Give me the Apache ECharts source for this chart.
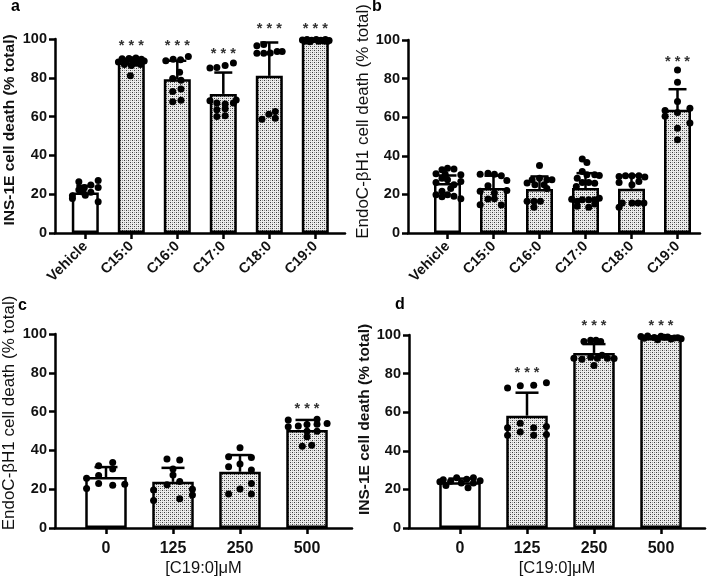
<!DOCTYPE html>
<html>
<head>
<meta charset="utf-8">
<script src="https://cdn.jsdelivr.net/npm/echarts@6/dist/echarts.min.js"></script>
<style>
html,body{margin:0;padding:0;background:#fff;}
#chart{width:710px;height:579px;}
</style>
</head>
<body>
<div id="chart"></div>
<script>
// ---------------- DATA ----------------
const catsFA = ["Vehicle", "C15:0", "C16:0", "C17:0", "C18:0", "C19:0"];
const catsDose = ["0", "125", "250", "500"];

// panel a: INS-1E, fatty acids
const meansA = [20.9, 88.0, 79.3, 71.7, 81.0, 99.5];
const sdA = [3.4, 1.8, 9.5, 11.0, 17.2, 0.5];
const starsA = [null, 98, 98, 93.6, 106.6, 106.9];
const pointsA = [
  [[-0.28,17.8],[-0.28,19.2],[-0.14,26.4],[-0.14,22.3],[-0.02,23.4],[0,19.5],[0.12,21.0],[0.12,24.8],[0.28,27.1],[0.28,23.5],[0.28,16.1],[-0.08,21.2]],
  [[-0.28,88.2],[-0.2,89.8],[-0.12,88.0],[-0.05,90.0],[0.02,89.3],[0.1,90.2],[0.18,88.5],[0.28,88.6],[-0.15,86.8],[0.0,86.3],[0.1,87.5],[0.2,86.8],[-0.02,81.0],[0.22,89.5]],
  [[-0.25,88.8],[-0.09,89.6],[0.07,89.3],[0.24,91.0],[0.05,82.8],[-0.1,79.6],[0.08,78.8],[-0.1,72.9],[0.08,74.2],[-0.1,67.6],[0.08,68.4]],
  [[-0.29,85.0],[-0.14,85.3],[0.04,86.4],[0.22,87.6],[-0.29,68.2],[-0.14,67.0],[0.04,66.5],[0.22,67.0],[-0.14,63.5],[0.04,64.0],[-0.14,60.0],[0.04,60.5],[0.28,68.5]],
  [[-0.27,96.5],[-0.12,97.2],[-0.27,92.6],[-0.12,92.6],[0.02,92.8],[0.17,93.6],[0.28,93.6],[-0.16,58.6],[-0.01,61.2],[0.13,62.6],[0.13,59.2]],
  [[-0.28,99.5],[-0.18,99.8],[-0.08,99.3],[0.02,99.8],[0.12,99.4],[0.22,99.7],[0.3,99.2],[-0.23,98.8],[0.07,98.9],[0.26,98.7],[-0.12,98.6],[0.17,99.0]]
];

// panel b: EndoC-betaH1, fatty acids
const meansB = [25.9, 23.3, 22.8, 23.3, 22.9, 63.8];
const sdB = [3.9, 6.4, 6.5, 7.7, 6.9, 10.7];
const starsB = [null, null, null, null, null, 90.2];
const pointsB = [
  [[-0.25,30.7],[-0.25,19.8],[-0.25,26.2],[-0.12,32.8],[-0.12,28.4],[-0.12,21.6],[-0.12,18.8],[0,33.6],[0,27.6],[0,19.8],[0.14,33.1],[0.14,25.0],[0.14,19.0],[0.29,30.2],[0.29,26.7],[0.29,17.8],[0.07,23.0],[-0.05,30.5]],
  [[-0.29,30.5],[-0.12,31.0],[0.02,30.5],[0.17,29.7],[0.29,27.2],[-0.29,21.6],[-0.12,17.6],[-0.29,14.7],[0.02,20.7],[0.02,17.8],[0.29,22.0],[0.17,14.5],[-0.12,24.5]],
  [[0.0,35.0],[-0.27,25.9],[-0.16,27.6],[0.0,28.4],[0.16,27.6],[0.27,27.6],[-0.1,25.0],[0.1,25.0],[-0.27,16.4],[-0.12,16.4],[0.02,16.4],[-0.12,13.4],[0.16,23.0]],
  [[-0.07,38.3],[0.03,36.5],[-0.07,31.9],[0.03,30.2],[0.2,30.2],[-0.18,28.4],[0.3,29.8],[-0.2,24.1],[-0.07,26.2],[0.07,26.2],[0.2,25.8],[-0.18,16.4],[-0.07,17.2],[0.07,17.2],[0.2,17.2],[-0.18,13.8],[0.07,13.4],[0.2,15.0],[0.3,18.0],[-0.3,17.5]],
  [[-0.27,29.3],[-0.13,29.7],[0.01,29.7],[0.16,29.7],[0.29,29.0],[-0.27,26.2],[0.16,26.7],[0.01,25.0],[-0.27,13.4],[-0.2,15.5],[0.01,15.5],[0.14,15.5],[0.27,15.5]],
  [[0,84.5],[0,78.1],[0,68.1],[0.27,64.7],[-0.27,63.5],[0,62.5],[-0.27,60.5],[0.27,57.0],[0,54.3],[0,48.3]]
];

// panel c: EndoC-betaH1, C19:0 dose
const meansC = [26.3, 23.8, 29.0, 50.5];
const sdC = [5.1, 7.2, 8.6, 5.2];
const starsC = [null, null, null, 63];
const pointsC = [
  [[-0.29,25.6],[-0.29,20.4],[-0.11,32.1],[-0.11,27.0],[-0.11,23.0],[0.1,33.7],[0.1,30.4],[0.1,22.1],[0.28,22.5]],
  [[-0.09,35.6],[0.1,35.0],[0,30.4],[0,27.3],[-0.09,22.3],[0.1,24.0],[-0.29,19.6],[-0.29,14.2],[0.29,20.0],[0.29,17.0],[0.1,15.1]],
  [[0,41.4],[-0.17,36.7],[0.17,36.4],[-0.17,31.6],[0,33.0],[0.17,29.9],[0.17,23.0],[-0.17,17.5],[0,20.1],[0.17,17.5]],
  [[-0.28,55.7],[-0.28,52.2],[-0.13,52.6],[0,53.4],[0.15,56.1],[0.3,53.9],[0,49.9],[0.15,49.9],[0,47.0],[-0.07,42.2],[0.07,42.7],[0.15,53.5]]
];

// panel d: INS-1E, C19:0 dose
const meansD = [23.7, 58.2, 90.7, 98.5];
const sdD = [1.9, 11.9, 4.6, 0.8];
const starsD = [null, 81.9, 106, 106];
const pointsD = [
  [[-0.3,24.0],[-0.21,22.0],[-0.14,24.2],[-0.05,26.1],[0.02,23.3],[0.1,25.2],[0.12,20.8],[0.2,23.3],[0.2,26.0],[-0.25,25.0],[0.3,24.5]],
  [[-0.29,72.5],[-0.1,73.7],[0.1,74.0],[0.29,75.2],[-0.29,52.0],[-0.29,48.1],[-0.1,54.3],[-0.1,49.7],[0.1,52.0],[0.1,48.1],[0.29,52.6],[0.29,48.4]],
  [[-0.15,96.6],[-0.05,97.3],[0.03,97.3],[0.1,96.6],[-0.3,88.0],[-0.18,87.5],[-0.05,88.5],[0.05,88.0],[0.2,88.0],[0.3,87.8],[0,84.2],[0.12,89.5]],
  [[-0.3,99.2],[-0.2,99.5],[-0.1,98.7],[0,99.3],[0.1,98.9],[0.2,98.4],[0.3,98.0],[-0.25,98.3],[-0.05,97.6],[0.15,97.9],[0.25,98.6],[0.05,98.8]]
];

const yTitleINS = "INS-1E cell death (% total)";
const yTitleEndo = "EndoC-\u03B2H1 cell death (% total)";
const xTitleDose = "[C19:0]\u03BCM";

// ---------------- STYLE / LAYOUT ----------------
const FONT = '"Liberation Sans", Arial, Helvetica, sans-serif';
const pc = document.createElement('canvas');
pc.width = 4; pc.height = 4;
const pctx = pc.getContext('2d');
pctx.fillStyle = '#ececec'; pctx.fillRect(0, 0, 4, 4);
pctx.fillStyle = '#3a3a3a';
pctx.fillRect(0, 0, 1, 1); pctx.fillRect(2, 2, 1, 1);
pctx.fillStyle = '#9a9a9a';
pctx.fillRect(2, 0, 1, 1); pctx.fillRect(0, 2, 1, 1);
const pattern = { image: pc, repeat: 'repeat' };

const panels = [
  { letter: 'a', lx: 16, ly: 8, cats: catsFA, means: meansA, sd: sdA, stars: starsA, pts: pointsA,
    axL: 55, axW: 290, barL: 62.3, barGW: 276, top: 39, h: 194, barW: 27, cap: 9,
    yTitle: yTitleINS, yBold: true, yGap: 37, yShift: 12, rotate: 45, xFont: 14.5, xMargin: 11, xName: '' },
  { letter: 'b', lx: 377, ly: 8, cats: catsFA, means: meansB, sd: sdB, stars: starsB, pts: pointsB,
    axL: 408, axW: 292, barL: 424.5, barGW: 276, top: 40, h: 193, barW: 27, cap: 9,
    yTitle: yTitleEndo, yBold: false, yGap: 35, yShift: 30, rotate: 45, xFont: 14.5, xMargin: 11, xName: '' },
  { letter: 'c', lx: 23, ly: 307, cats: catsDose, means: meansC, sd: sdC, stars: starsC, pts: pointsC,
    axL: 55, axW: 297, barL: 72.5, barGW: 268, top: 334, h: 194, barW: 41.5, cap: 11.5,
    yTitle: yTitleEndo, yBold: false, yGap: 37, yShift: 36, rotate: 0, xFont: 16, xMargin: 13, xName: xTitleDose },
  { letter: 'd', lx: 400, ly: 306, cats: catsDose, means: meansD, sd: sdD, stars: starsD, pts: pointsD,
    axL: 409, axW: 296, barL: 426.5, barGW: 268, top: 335, h: 193, barW: 41.5, cap: 11.5,
    yTitle: yTitleINS, yBold: true, yGap: 35, yShift: 24, rotate: 0, xFont: 16, xMargin: 13, xName: xTitleDose }
];

const grid = [], xAxis = [], yAxis = [], series = [], graphic = [];
const LW = 2.5;

panels.forEach((p, k) => {
  const gA = 2 * k, gB = 2 * k + 1;
  grid.push({ left: p.axL, top: p.top, width: p.axW, height: p.h, containLabel: false });
  grid.push({ left: p.barL, top: p.top, width: p.barGW, height: p.h, containLabel: false });

  xAxis.push({
    type: 'value', gridIndex: gA, min: 0, max: 1, position: 'bottom',
    axisLine: { show: true, onZero: false, lineStyle: { color: '#000', width: LW } },
    axisTick: { show: false }, axisLabel: { show: false }, splitLine: { show: false },
    name: p.xName, nameLocation: 'middle', nameGap: 32,
    nameTextStyle: { fontFamily: FONT, fontSize: 16.5, color: '#111', fontWeight: 'normal' }
  });
  xAxis.push({
    type: 'category', gridIndex: gB, data: p.cats, position: 'bottom',
    axisLine: { show: false },
    axisTick: { show: true, alignWithLabel: true, length: 6, lineStyle: { color: '#000', width: LW } },
    axisLabel: { show: true, rotate: p.rotate, margin: p.xMargin, interval: 0,
      fontFamily: FONT, fontSize: p.xFont, fontWeight: 'bold', color: '#111' },
    splitLine: { show: false }
  });
  xAxis.push({ type: 'value', gridIndex: gB, min: -0.5, max: p.cats.length - 0.5, show: false });

  yAxis.push({
    type: 'value', gridIndex: gA, min: 0, max: 100, interval: 20, position: 'left',
    axisLine: { show: true, onZero: false, lineStyle: { color: '#000', width: LW } },
    axisTick: { show: true, length: 6, lineStyle: { color: '#000', width: LW } },
    axisLabel: { show: true, margin: 8, fontFamily: FONT, fontSize: 14.5, fontWeight: 'bold', color: '#111' },
    splitLine: { show: false },
    name: p.yTitle, nameLocation: 'middle', nameRotate: 90, nameGap: p.yGap,
    nameTextStyle: { fontFamily: FONT, fontSize: p.yBold ? 15.5 : 17, fontWeight: p.yBold ? 'bold' : 'normal',
      color: '#111', padding: [0, 0, 0, p.yShift] }
  });
  yAxis.push({ type: 'value', gridIndex: gB, min: 0, max: 100, show: false });

  const xCat = 3 * k + 1, xVal = 3 * k + 2, yB = 2 * k + 1;

  series.push({
    type: 'bar', xAxisIndex: xCat, yAxisIndex: yB, barWidth: p.barW, z: 2,
    data: p.means.map((m, i) => ({ value: m, itemStyle: { color: i === 0 ? '#ffffff' : pattern } })),
    itemStyle: { borderColor: '#000', borderWidth: LW },
    emphasis: { disabled: true }, silent: true
  });

  const cap = p.cap;
  series.push({
    type: 'custom', xAxisIndex: xCat, yAxisIndex: yB, z: 3, clip: false, silent: true,
    data: p.means.map((m, i) => [i, m, p.sd[i]]),
    encode: { x: 0, y: 1 },
    renderItem: (params, api) => {
      const i = api.value(0), m = api.value(1), s = api.value(2);
      const a = api.coord([i, m]), b = api.coord([i, m + s]);
      return { type: 'group', children: [
        { type: 'line', shape: { x1: a[0], y1: a[1], x2: b[0], y2: b[1] }, style: { stroke: '#000', lineWidth: LW } },
        { type: 'line', shape: { x1: b[0] - cap, y1: b[1], x2: b[0] + cap, y2: b[1] }, style: { stroke: '#000', lineWidth: LW } }
      ] };
    }
  });

  const ptsData = [];
  p.pts.forEach((g, i) => g.forEach(d => ptsData.push([i + d[0], d[1]])));
  series.push({
    type: 'scatter', xAxisIndex: xVal, yAxisIndex: yB, z: 5, silent: true,
    symbol: 'circle', symbolSize: 7, itemStyle: { color: '#000', opacity: 1 },
    data: ptsData
  });

  series.push({
    type: 'custom', xAxisIndex: xCat, yAxisIndex: yB, z: 6, clip: false, silent: true,
    data: p.stars.map((v, i) => v == null ? null : [i, v]).filter(Boolean),
    encode: { x: 0, y: 1 },
    renderItem: (params, api) => {
      const c = api.coord([api.value(0), api.value(1)]);
      return { type: 'text', x: c[0], y: c[1] + 3,
        style: { text: '* * *', fill: '#333', font: 'bold 14.5px ' + FONT, align: 'center', verticalAlign: 'middle' } };
    }
  });

  graphic.push({ type: 'text', left: p.lx - 5, top: p.ly - 9,
    style: { text: p.letter, font: 'bold 16px ' + FONT, fill: '#000' } });
});

const chart = echarts.init(document.getElementById('chart'), null, { renderer: 'canvas' });
chart.setOption({ animation: false, backgroundColor: '#fff', grid, xAxis, yAxis, series, graphic });
</script>
</body>
</html>
